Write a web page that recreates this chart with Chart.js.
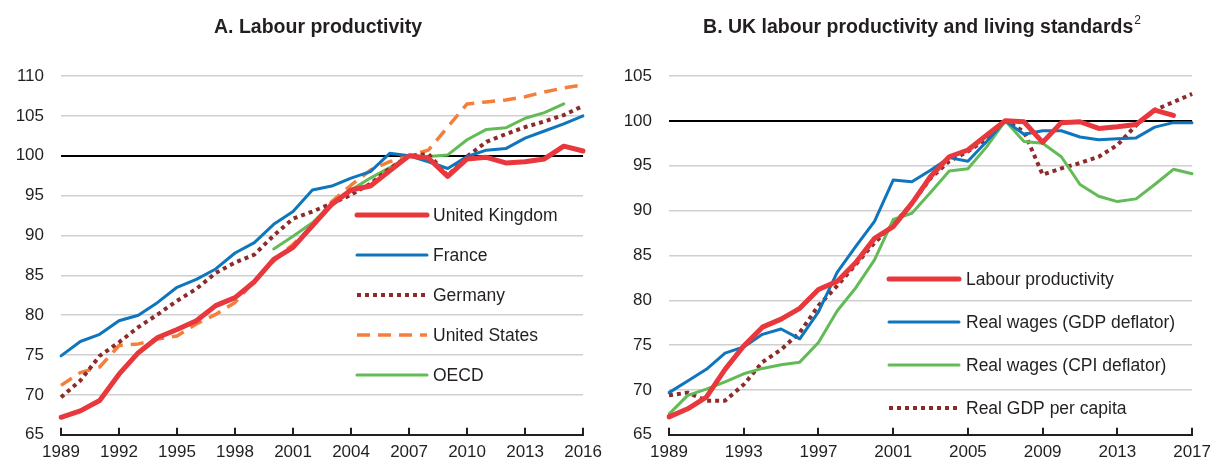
<!DOCTYPE html>
<html>
<head>
<meta charset="utf-8">
<script src="https://cdn.jsdelivr.net/npm/chart.js@4.4.1/dist/chart.umd.min.js"></script>
<style>
  body { margin: 0; background: #fff; }
  .wrap { display: flex; width: 1218px; height: 462px; }
  canvas { display: block; }
</style>
</head>
<body>
<div class="wrap">
  <canvas id="chartA" width="609" height="462"></canvas>
  <canvas id="chartB" width="609" height="462"></canvas>
</div>
<script>
// ---- panel A: labour productivity, 2007 = 100
const yearsA = ['1989','1990','1991','1992','1993','1994','1995','1996','1997','1998','1999','2000','2001','2002',
                '2003','2004','2005','2006','2007','2008','2009','2010','2011','2012','2013','2014','2015','2016'];
const ukA = [67.2,68.0,69.3,72.6,75.3,77.2,78.2,79.3,81.2,82.2,84.2,87.0,88.5,91.2,
             93.9,95.7,96.2,98.1,100,99.7,97.4,99.6,99.8,99.1,99.25,99.6,101.2,100.6];
const franceA = [74.9,76.7,77.6,79.3,80.0,81.6,83.5,84.5,85.8,87.8,89.1,91.4,93.0,95.7,
                 96.2,97.2,98.0,100.3,100,99.25,98.4,99.9,100.7,100.9,102.2,103.1,104.0,105.0];
const germanyA = [69.7,71.8,74.9,76.6,78.5,80.1,81.8,83.3,85.3,86.6,87.6,90.0,92.1,93.0,
                  94.0,95.1,96.5,98.4,100,100.2,97.5,99.9,101.75,102.7,103.6,104.3,105.1,106.25];
const usA = [71.2,72.8,73.5,76.2,76.4,77.0,77.4,78.9,80.1,81.6,84.3,86.8,88.9,91.2,
             94.25,96.3,98.2,99.25,100,100.7,103.6,106.5,106.75,107.0,107.4,108.0,108.5,108.9];
const oecdA = [null,null,null,null,null,null,null,null,null,null,null,88.3,89.9,91.6,
               94.0,95.7,97.2,98.5,100,99.9,100.1,102.0,103.3,103.5,104.7,105.4,106.5,null];
const yTicksA = [65,110];

// ---- panel B: UK labour productivity and living standards
const yearsB = ['1989','1990','1991','1992','1993','1994','1995','1996','1997','1998','1999','2000','2001','2002',
                '2003','2004','2005','2006','2007','2008','2009','2010','2011','2012','2013','2014','2015','2016','2017'];
const prodB = [67.0,67.9,69.2,72.3,74.9,77.0,77.9,79.1,81.2,82.1,84.2,86.9,88.2,90.8,
               93.8,96.0,96.75,98.4,100,99.9,97.6,99.8,99.9,99.15,99.35,99.6,101.2,100.6,null];
const wagesGdpB = [69.7,71.0,72.3,74.1,74.8,76.2,76.8,75.7,78.7,83.1,86.0,88.8,93.4,93.2,
                   94.5,95.9,95.5,97.7,100,98.5,98.9,98.9,98.2,97.9,98.0,98.1,99.3,99.8,99.8];
const wagesCpiB = [67.3,69.4,70.1,70.9,71.8,72.4,72.8,73.1,75.3,78.8,81.4,84.5,89.0,89.7,
                   92.0,94.4,94.65,97.1,100,97.7,97.5,96.0,92.9,91.6,91.0,91.3,92.9,94.6,94.1];
const gdpPcB = [69.4,69.7,68.8,68.8,70.6,73.1,74.5,76.4,79.4,81.6,84.0,86.4,88.4,90.8,
                93.6,95.5,96.6,98.0,100,98.8,94.0,94.7,95.3,96.0,97.3,99.5,101.2,102.1,103.0];
const yTicksB = [65,105];

const RED = '#E8383D', BLUE = '#0F75BC', DKRED = '#8C2B2B', ORANGE = '#F47E3A', GREEN = '#62BB57';
const TEXT = '#231F20';
const FONT = "'Liberation Sans', Arial, sans-serif";

Chart.defaults.font.family = FONT;
Chart.defaults.font.size = 17;
Chart.defaults.color = TEXT;

function series(label, data, color, width, dash) {
  return {
    label: label, data: data, borderColor: color, backgroundColor: color,
    borderWidth: width, borderDash: dash || [], pointRadius: 0, tension: 0,
    borderJoinStyle: 'round', borderCapStyle: dash ? 'butt' : 'round', spanGaps: false
  };
}

// title drawn above the plot, with optional superscript
const panelTitle = {
  id: 'panelTitle',
  afterDraw(chart, args, opts) {
    const ctx = chart.ctx;
    ctx.save();
    ctx.fillStyle = TEXT;
    ctx.textBaseline = 'middle';
    ctx.font = 'bold 19.5px ' + FONT;
    const w = ctx.measureText(opts.text).width;
    ctx.font = '12px ' + FONT;
    const ws = opts.sup ? ctx.measureText(opts.sup).width + 1 : 0;
    let x = opts.x - (w + ws) / 2;
    ctx.font = 'bold 19.5px ' + FONT;
    ctx.textAlign = 'left';
    ctx.fillText(opts.text, x, 28);
    if (opts.sup) {
      ctx.font = '12px ' + FONT;
      ctx.fillText(opts.sup, x + w + 1, 21);
    }
    ctx.restore();
  }
};

// small tick marks pointing up from the x axis
const insideTicks = {
  id: 'insideTicks',
  afterDraw(chart, args, opts) {
    const sx = chart.scales.x, ctx = chart.ctx;
    const bottom = chart.chartArea.bottom;
    ctx.save();
    ctx.strokeStyle = TEXT;
    ctx.lineWidth = 2;
    for (let i = 0; i < chart.data.labels.length; i += opts.step) {
      const px = Math.round(sx.getPixelForValue(i));
      ctx.beginPath();
      ctx.moveTo(px, bottom);
      ctx.lineTo(px, bottom - 7);
      ctx.stroke();
    }
    ctx.restore();
  }
};

// legend drawn inside the plot area
const lineLegend = {
  id: 'lineLegend',
  afterDraw(chart, args, opts) {
    const ctx = chart.ctx;
    ctx.save();
    chart.data.datasets.forEach((ds, i) => {
      const y = opts.y + i * opts.dy;
      ctx.beginPath();
      ctx.strokeStyle = ds.borderColor;
      ctx.lineWidth = ds.borderWidth;
      ctx.setLineDash(ds.borderDash);
      ctx.lineCap = ds.borderDash.length ? 'butt' : 'round';
      ctx.moveTo(opts.x0, y);
      ctx.lineTo(opts.x1, y);
      ctx.stroke();
      ctx.setLineDash([]);
      ctx.fillStyle = TEXT;
      ctx.font = '17.5px ' + FONT;
      ctx.textBaseline = 'middle';
      ctx.textAlign = 'left';
      ctx.fillText(ds.label, opts.textX, y + 1);
    });
    ctx.restore();
  }
};

function makeOptions(yRange, step, leftW, rightPad, title, legend) {
  return {
    responsive: false,
    animation: false,
    layout: { padding: { top: 76, right: rightPad, bottom: 0, left: 0 } },
    scales: {
      x: {
        type: 'category',
        offset: false,
        grid: { display: false, drawTicks: false },
        border: { display: true, color: TEXT, width: 2 },
        ticks: {
          autoSkip: false, maxRotation: 0, padding: 7,
          callback: function (val, idx) { return idx % step === 0 ? this.getLabelForValue(val) : null; }
        },
        afterFit: (s) => { s.height = 26; }
      },
      y: {
        min: yRange[0], max: yRange[1],
        border: { display: false },
        grid: {
          drawTicks: false,
          color: (c) => c.tick.value === 100 ? '#000' : (c.tick.value === yRange[0] ? 'rgba(0,0,0,0)' : '#CFCFCF'),
          lineWidth: (c) => c.tick.value === 100 ? 2 : 1.5
        },
        ticks: { stepSize: 5, padding: 17 },
        afterFit: (s) => { s.width = leftW; }
      }
    },
    plugins: {
      legend: { display: false },
      tooltip: { enabled: false },
      panelTitle: title,
      insideTicks: { step: step },
      lineLegend: legend
    }
  };
}

new Chart(document.getElementById('chartA'), {
  type: 'line',
  data: {
    labels: yearsA,
    datasets: [
      series('United Kingdom', ukA, RED, 5),
      series('France', franceA, BLUE, 3),
      series('Germany', germanyA, DKRED, 4, [4, 4]),
      series('United States', usA, ORANGE, 3.5, [13, 8]),
      series('OECD', oecdA, GREEN, 3)
    ]
  },
  options: makeOptions(yTicksA, 3, 61, 24,
    { text: 'A. Labour productivity', x: 318 },
    { x0: 357, x1: 427, textX: 433, y: 215, dy: 40 }),
  plugins: [panelTitle, insideTicks, lineLegend]
});

new Chart(document.getElementById('chartB'), {
  type: 'line',
  data: {
    labels: yearsB,
    datasets: [
      series('Labour productivity', prodB, RED, 5),
      series('Real wages (GDP deflator)', wagesGdpB, BLUE, 3),
      series('Real wages (CPI deflator)', wagesCpiB, GREEN, 3),
      series('Real GDP per capita', gdpPcB, DKRED, 4, [4, 4])
    ]
  },
  options: makeOptions(yTicksB, 4, 60, 22,
    { text: 'B. UK labour productivity and living standards', sup: '2', x: 313 },
    { x0: 280, x1: 350, textX: 357, y: 279, dy: 43 }),
  plugins: [panelTitle, insideTicks, lineLegend]
});
</script>
</body>
</html>
